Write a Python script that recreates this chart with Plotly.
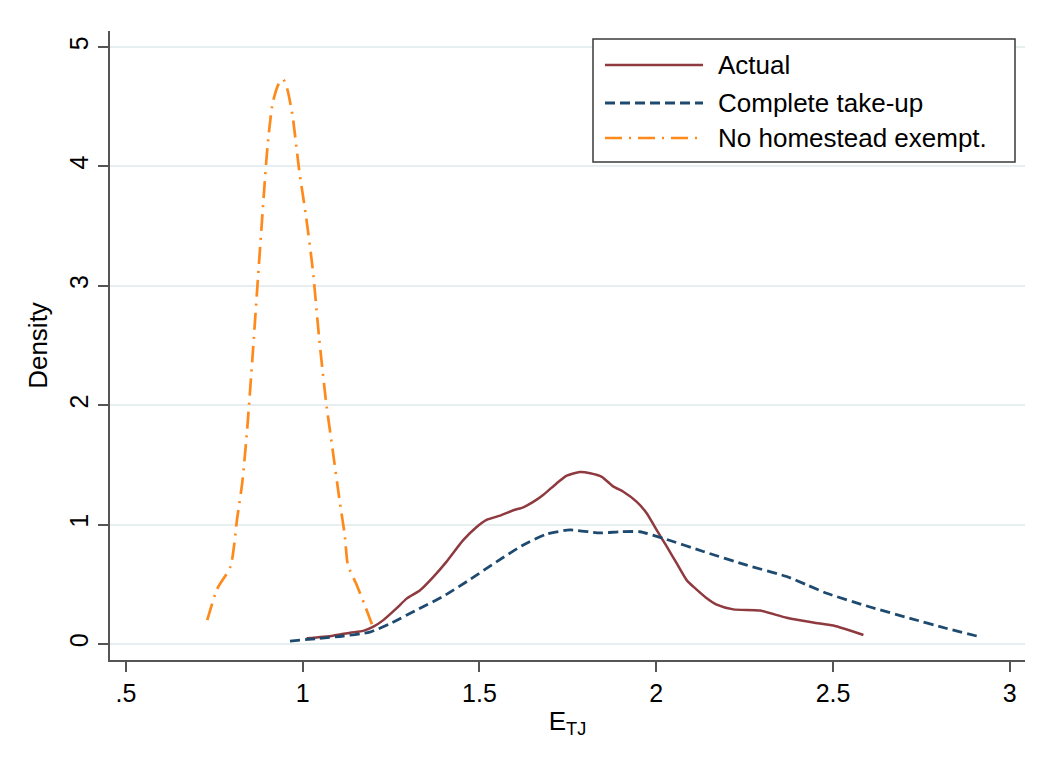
import plotly.graph_objects as go

# ---- data ----
series_names = ["Actual", "Complete take-up", "No homestead exempt."]

actual_x = [1.011, 1.086, 1.134, 1.171, 1.200, 1.228, 1.266, 1.294, 1.332, 1.369, 1.407,
            1.454, 1.492, 1.520, 1.558, 1.596, 1.624, 1.652, 1.681, 1.718, 1.747, 1.784,
            1.813, 1.846, 1.878, 1.907, 1.945, 1.973, 2.001, 2.030, 2.058, 2.086, 2.105,
            2.140, 2.171, 2.218, 2.293, 2.369, 2.444, 2.501, 2.586]
actual_y = [0.048, 0.070, 0.095, 0.110, 0.145, 0.200, 0.300, 0.380, 0.450, 0.560, 0.690,
            0.870, 0.980, 1.040, 1.075, 1.120, 1.145, 1.190, 1.250, 1.345, 1.410, 1.440,
            1.430, 1.400, 1.320, 1.275, 1.190, 1.095, 0.955, 0.815, 0.675, 0.535, 0.480,
            0.390, 0.330, 0.290, 0.280, 0.220, 0.180, 0.155, 0.075]

complete_x = [0.964, 1.039, 1.115, 1.190, 1.247, 1.322, 1.398, 1.473, 1.549, 1.624, 1.690,
              1.756, 1.841, 1.897, 1.954, 2.020, 2.133, 2.256, 2.369, 2.426, 2.482, 2.605,
              2.718, 2.822, 2.916]
complete_y = [0.025, 0.045, 0.067, 0.100, 0.170, 0.285, 0.400, 0.540, 0.690, 0.830, 0.920,
              0.955, 0.930, 0.940, 0.940, 0.885, 0.775, 0.660, 0.565, 0.495, 0.425, 0.310,
              0.215, 0.130, 0.060]

nohome_x = [0.730, 0.758, 0.796, 0.815, 0.829, 0.843, 0.858, 0.872, 0.886, 0.900, 0.915,
            0.932, 0.945, 0.957, 0.972, 0.990, 1.009, 1.028, 1.047, 1.066, 1.085, 1.104,
            1.119, 1.128, 1.152, 1.175, 1.199]
nohome_y = [0.20, 0.46, 0.65, 1.06, 1.35, 1.80, 2.40, 3.00, 3.59, 4.15, 4.53,
            4.69, 4.73, 4.64, 4.41, 3.97, 3.59, 3.15, 2.55, 2.03, 1.62, 1.21,
            0.91, 0.66, 0.50, 0.33, 0.14]

x_tickvals = [0.5, 1, 1.5, 2, 2.5, 3]
x_ticktext = [".5", "1", "1.5", "2", "2.5", "3"]
y_tickvals = [0, 1, 2, 3, 4, 5]
y_ticktext = ["0", "1", "2", "3", "4", "5"]

# ---- styles ----
FONT = "Liberation Sans, Arial, sans-serif"
colors = ["#8E3A3F", "#1F4A70", "#FF8A1C"]
dashes = ["solid", "10px,5px", "17px,7px,2px,7px"]
widths = [2.5, 2.8, 2.7]

fig = go.Figure()
for xs, ys, c, d, w, n in zip([actual_x, complete_x, nohome_x],
                              [actual_y, complete_y, nohome_y],
                              colors, dashes, widths, series_names):
    fig.add_trace(go.Scatter(x=xs, y=ys, mode="lines", name=n,
                             line=dict(color=c, dash=d, width=w, shape="spline", smoothing=0.6),
                             showlegend=False))

# page body adds an 8px offset; compensate in margins
OFF = 8
PL, PR, PT, PB = 110 - OFF, 1025 - OFF, 31 - OFF, 660 - OFF
L, R, T, B = 593 - OFF, 1015 - OFF, 39 - OFF, 162 - OFF

def px(xp):
    return (xp - PL) / (PR - PL)
def py(yp):
    return (PB - yp) / (PB - PT)

fig.add_shape(type="rect", xref="paper", yref="paper",
              x0=px(L), x1=px(R), y0=py(B), y1=py(T),
              line=dict(color="#3a3a3a", width=1.5), fillcolor="white", layer="above")
row_y = [65 - OFF, 103 - OFF, 138 - OFF]
for ry, c, d, w, n in zip(row_y, colors, dashes, widths, series_names):
    fig.add_shape(type="line", xref="paper", yref="paper",
                  x0=px(605 - OFF), x1=px(703 - OFF), y0=py(ry), y1=py(ry),
                  line=dict(color=c, dash=d, width=w), layer="above")
    fig.add_annotation(xref="paper", yref="paper", x=px(716 - OFF), y=py(ry),
                       text=n, showarrow=False, xanchor="left", yanchor="middle",
                       font=dict(family=FONT, size=26, color="black"))

fig.update_layout(
    width=1039, height=765,
    paper_bgcolor="white", plot_bgcolor="white",
    margin=dict(l=PL, r=1039 - PR, t=PT, b=765 - PB),
    font=dict(family=FONT, size=25, color="black"),
    showlegend=False,
)
fig.update_xaxes(
    range=[0.455, 3.043], tickvals=x_tickvals, ticktext=x_ticktext,
    showline=True, linecolor="#555555", linewidth=1.5,
    ticks="outside", ticklen=10, tickwidth=1.5, tickcolor="#555555",
    showgrid=False, zeroline=False,
    tickfont=dict(family=FONT, size=25, color="black"),
    title=dict(text="E<sub>TJ</sub>", font=dict(family=FONT, size=26, color="black"), standoff=6),
)
fig.update_yaxes(
    range=[-0.134, 5.134], tickvals=y_tickvals, ticktext=y_ticktext,
    showline=True, linecolor="#555555", linewidth=1.5,
    ticks="outside", ticklen=10, tickwidth=1.5, tickcolor="#555555",
    showgrid=True, gridcolor="#E6EEF0", gridwidth=1.5, zeroline=False,
    tickangle=-90,
    tickfont=dict(family=FONT, size=25, color="black"),
    title=dict(text="Density", font=dict(family=FONT, size=26, color="black"), standoff=10),
)

fig.write_html("out.html")
